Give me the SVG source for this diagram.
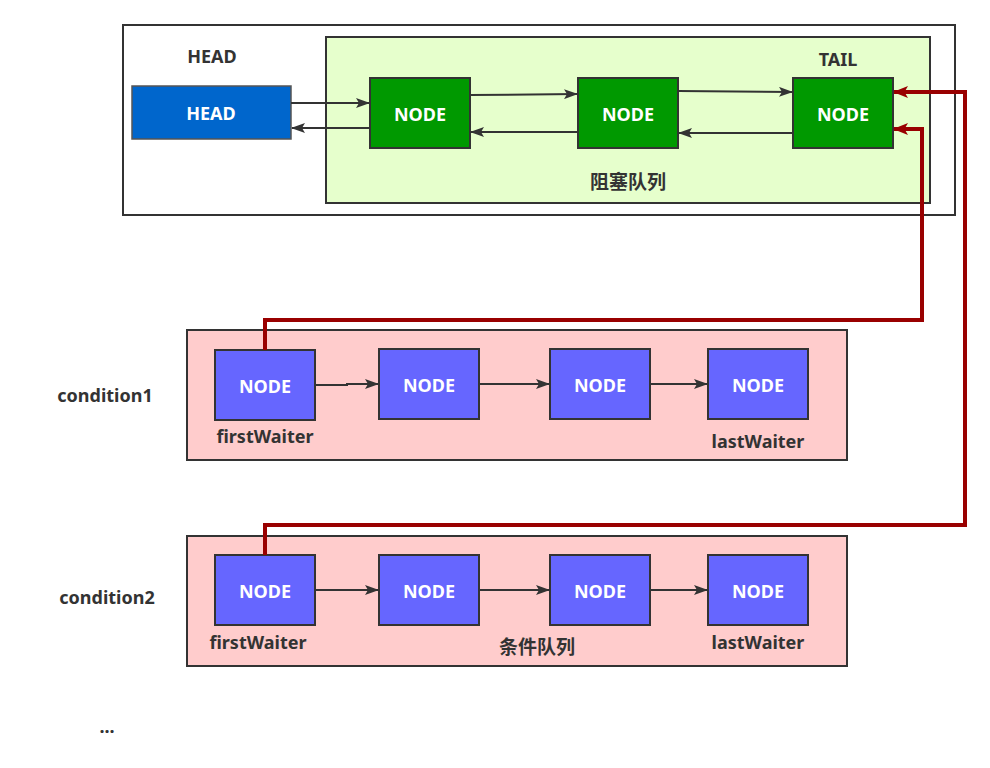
<svg xmlns="http://www.w3.org/2000/svg" width="990" height="768" viewBox="0 0 990 768">
<defs>
<marker id="ah" viewBox="0 0 14 10" refX="13" refY="5" markerWidth="14" markerHeight="10" markerUnits="userSpaceOnUse" orient="auto"><path d="M0,0 L14,5 L0,10 L3,5 Z" fill="#333"/></marker>
<marker id="ahr" viewBox="0 0 15 12" refX="14" refY="6" markerWidth="15" markerHeight="12" markerUnits="userSpaceOnUse" orient="auto"><path d="M0,0 L15,6 L0,12 L3.5,6 Z" fill="#990000"/></marker>
<style>
text{font-family:"Noto Sans","Open Sans","Noto Sans CJK SC",sans-serif;font-weight:bold;text-anchor:middle;dominant-baseline:central}
.lbl{fill:#333;font-size:18px}
.cjk{font-size:19px}
.nt{fill:#fff;font-size:18px}
.box{stroke:#333;stroke-width:2}
.g{fill:#009900}
.b{fill:#6666FF}
.c{stroke:#333;stroke-width:2;fill:none;marker-end:url(#ah)}
.r{stroke:#990000;stroke-width:4;fill:none;marker-end:url(#ahr)}
</style>
</defs>
<g id="outer"><rect x="123" y="25" width="832" height="190" fill="#fff" class="box"/><text class="lbl" x="212" y="56">HEAD</text></g>
<g id="blockq"><rect x="326" y="37" width="604" height="166" fill="#E6FFCC" class="box"/><text class="lbl cjk" x="628" y="182">阻塞队列</text><text class="lbl" x="838" y="59">TAIL</text></g>
<g id="cond1"><rect x="187" y="330" width="660" height="130" fill="#FFCCCC" class="box"/></g>
<g id="cond2"><rect x="187" y="536" width="660" height="130" fill="#FFCCCC" class="box"/><text class="lbl cjk" x="537" y="647">条件队列</text></g>
<g id="head"><rect x="132" y="86" width="159" height="53" fill="#0066CC" stroke="#555" stroke-width="1.5"/><text class="nt" x="211" y="113">HEAD</text></g>
<g id="n1"><rect x="370" y="78" width="100" height="70" class="box g"/><text class="nt" x="420" y="114">NODE</text></g>
<g id="n2"><rect x="578" y="78" width="100" height="70" class="box g"/><text class="nt" x="628" y="114">NODE</text></g>
<g id="n3"><rect x="793" y="78" width="100" height="70" class="box g"/><text class="nt" x="843" y="114">NODE</text></g>
<g id="c1n1"><rect x="215" y="350" width="100" height="70" class="box b"/><text class="nt" x="265" y="386">NODE</text></g>
<g id="c1n2"><rect x="379" y="349" width="100" height="70" class="box b"/><text class="nt" x="429" y="385">NODE</text></g>
<g id="c1n3"><rect x="550" y="349" width="100" height="70" class="box b"/><text class="nt" x="600" y="385">NODE</text></g>
<g id="c1n4"><rect x="708" y="349" width="100" height="70" class="box b"/><text class="nt" x="758" y="385">NODE</text></g>
<g id="c2n1"><rect x="215" y="555" width="100" height="70" class="box b"/><text class="nt" x="265" y="591">NODE</text></g>
<g id="c2n2"><rect x="379" y="555" width="100" height="70" class="box b"/><text class="nt" x="429" y="591">NODE</text></g>
<g id="c2n3"><rect x="550" y="555" width="100" height="70" class="box b"/><text class="nt" x="600" y="591">NODE</text></g>
<g id="c2n4"><rect x="708" y="555" width="100" height="70" class="box b"/><text class="nt" x="758" y="591">NODE</text></g>
<g id="labels">
<text class="lbl" x="105" y="395">condition1</text>
<text class="lbl" x="265" y="436">firstWaiter</text>
<text class="lbl" x="758" y="441">lastWaiter</text>
<text class="lbl" x="107" y="597">condition2</text>
<text class="lbl" x="258" y="642">firstWaiter</text>
<text class="lbl" x="758" y="642">lastWaiter</text>
<text class="lbl" x="107" y="726">...</text>
</g>
<g id="connectors">
<path class="c" d="M291,103 L369,103"/>
<path class="c" d="M370,128 L292,128"/>
<path class="c" d="M470,95 L577,94"/>
<path class="c" d="M578,132 L471,132"/>
<path class="c" d="M678,91 L792,92"/>
<path class="c" d="M793,133 L679,133"/>
<path class="c" d="M315,385 L347,385 L347,384 L378,384"/>
<path class="c" d="M479,384 L549,384"/>
<path class="c" d="M650,384 L707,384"/>
<path class="c" d="M315,590 L378,590"/>
<path class="c" d="M479,590 L549,590"/>
<path class="c" d="M650,590 L707,590"/>
<path class="r" d="M265,350 L265,320 L922,320 L922,129 L894,129"/>
<path class="r" d="M265,555 L265,525 L965,525 L965,92 L894,92"/>
</g>
</svg>
